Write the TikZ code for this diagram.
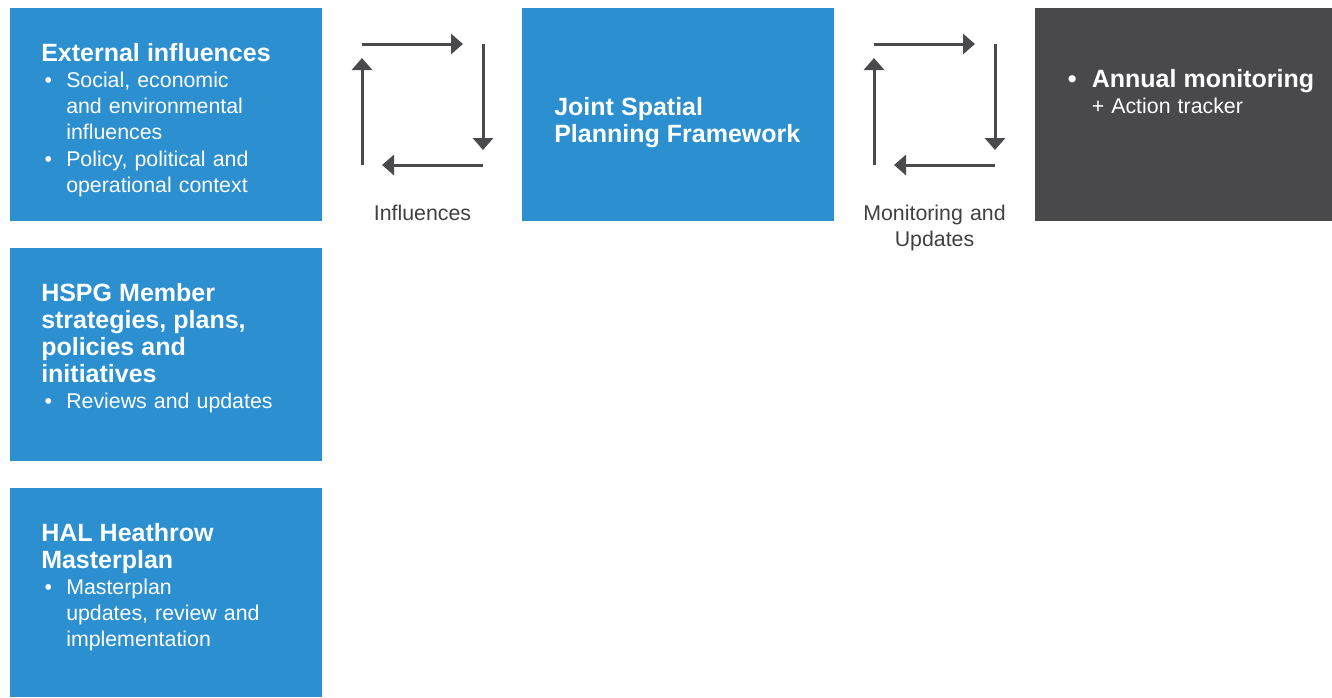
\documentclass[tikz,border=0pt]{standalone}
\usepackage{fontspec}
\setmainfont{Liberation Sans}
\usetikzlibrary{arrows.meta}
\usetikzlibrary{calc}

\definecolor{hsblue}{RGB}{43,143,208}
\definecolor{hsdark}{RGB}{73,73,75}
\definecolor{hsarrow}{RGB}{74,74,76}
\definecolor{hslabel}{RGB}{64,64,64}

\newcommand{\titlef}{\fontsize{18.75}{20.25}\selectfont\bfseries}
\newcommand{\bodyf}{\fontsize{16}{19.7}\selectfont}
\newcommand{\bpt}{\par\hangindent=18.75pt\hangafter=1\noindent\hbox to 18.75pt{\hskip 2.5pt •\hss}}

\tikzset{
  panel/.style={rectangle, inner sep=0pt, anchor=north west, minimum width=234pt, minimum height=159.75pt, fill=hsblue},
  paneltext/.style={inner sep=0pt, anchor=base west, text=white, text width=217pt, align=left, font=\bodyf},
  cyc/.style={-{Triangle[width=15pt,length=9pt]}, line width=2.25pt, draw=hsarrow},
  cyclabel/.style={inner sep=0pt, anchor=base, text=hslabel, text width=160pt, align=center, font=\bodyf}
}

\begin{document}
\begin{tikzpicture}[x=0.75pt,y=-0.75pt]
\useasboundingbox (0,0) rectangle (1332,697);

% panels
\node[panel] (ext) at (10,8) {};
\node[panel] (hspg) at (10,248) {};
\node[panel, minimum height=156.75pt] (hal) at (10,488) {};
\node[panel] (jspf) at (522,8) {};
\node[panel, fill=hsdark, minimum width=222.75pt] (annual) at (1035,8) {};

\node[paneltext] (ext-txt) at ([shift={(31,53)}]ext.north west)
  {{\titlef External influences\par}%
   \bpt Social, economic\newline and environmental\newline influences%
   \bpt Policy, political and\newline operational context\par};
\node[paneltext] (hspg-txt) at ([shift={(31,53)}]hspg.north west)
  {{\titlef HSPG Member\newline strategies, plans,\newline policies and\newline initiatives\par}%
   \bpt Reviews and updates\par};
\node[paneltext] (hal-txt) at ([shift={(31,53)}]hal.north west)
  {{\titlef HAL Heathrow\newline Masterplan\par}%
   \bpt Masterplan\newline updates, review and\newline implementation\par};
\node[paneltext] (jspf-txt) at ([shift={(32,107)}]jspf.north west)
  {{\titlef Joint Spatial\newline Planning Framework\par}};
\node[paneltext] (annual-txt) at ([shift={(32.5,79)}]annual.north west)
  {{\titlef\hbox to 18pt{•\hss}Annual monitoring\par}%
   \hspace*{18pt}+ Action tracker\par};

% cycles
\foreach \nm/\cx/\lbl in {infl/362/Influences, mon/874/{Monitoring and\\Updates}} {
  \coordinate (\nm-tl) at (\cx,44);
  \coordinate (\nm-tr) at (\cx+121,44);
  \coordinate (\nm-br) at (\cx+121,165);
  \coordinate (\nm-bl) at (\cx,165);
  \draw[cyc, shorten >=15pt] (\nm-tl) -- (\nm-tr);
  \draw[cyc, shorten >=11.25pt] (\nm-tr) -- (\nm-br);
  \draw[cyc, shorten >=15pt] (\nm-br) -- (\nm-bl);
  \draw[cyc, shorten >=10.5pt] (\nm-bl) -- (\nm-tl);
  \node[cyclabel] (\nm-lbl) at ($(\nm-bl)!0.5!(\nm-br)+(0,55)$) {\lbl};
}

\end{tikzpicture}
\end{document}
